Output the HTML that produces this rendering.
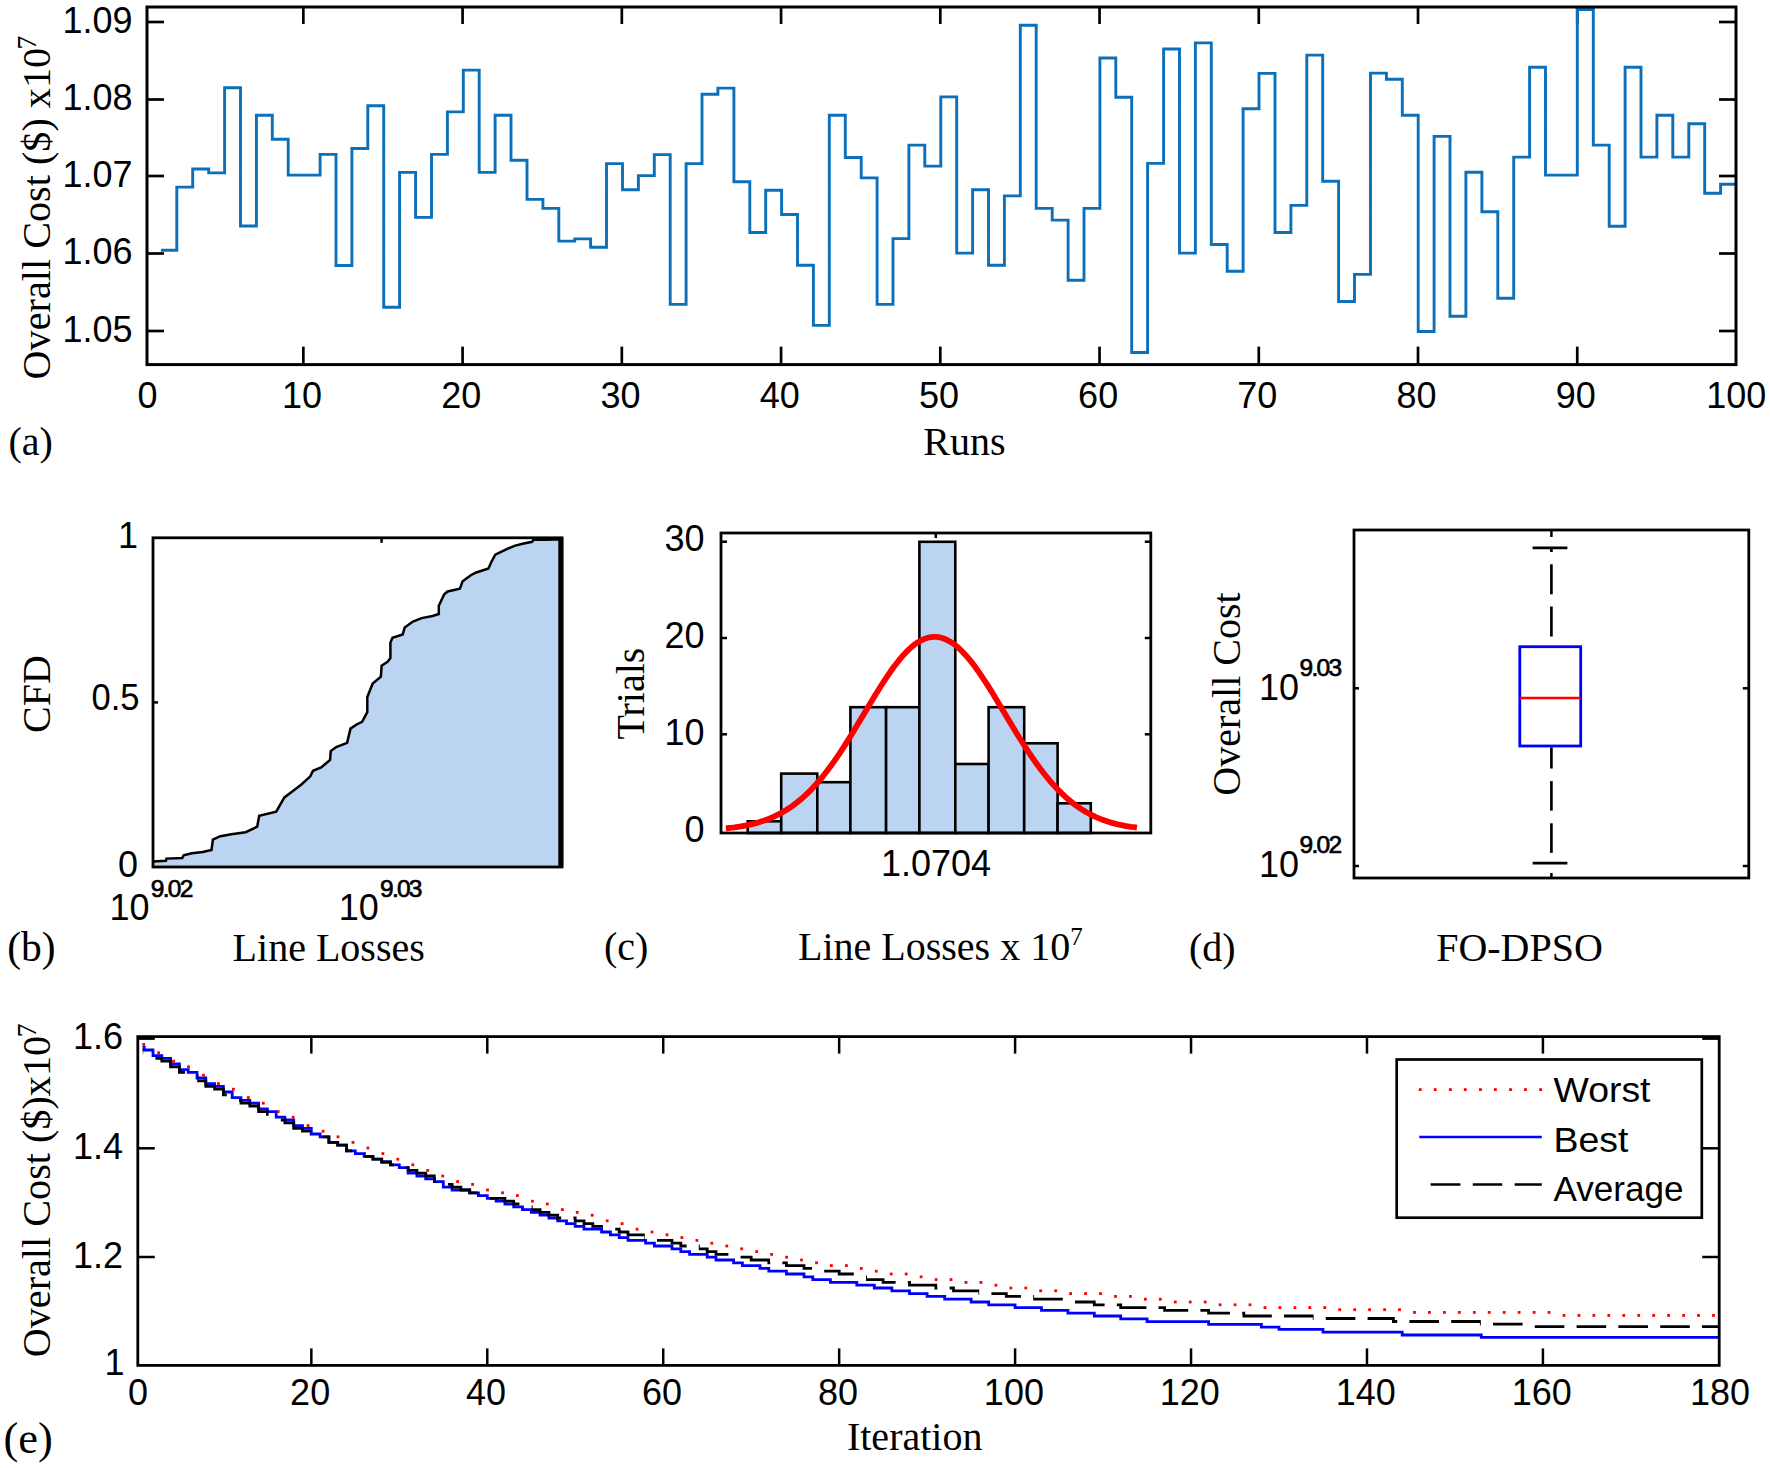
<!DOCTYPE html>
<html><head><meta charset="utf-8"><title>Figure</title>
<style>html,body{margin:0;padding:0;background:#fff;}svg{display:block;}</style></head>
<body><svg width="1770" height="1468" viewBox="0 0 1770 1468">
<rect width="1770" height="1468" fill="#fff"/>
<line x1="303.34" y1="364.60" x2="303.34" y2="346.60" stroke="#000" stroke-width="2.7" />
<line x1="303.34" y1="7.00" x2="303.34" y2="24.00" stroke="#000" stroke-width="2.7" />
<line x1="462.58" y1="364.60" x2="462.58" y2="346.60" stroke="#000" stroke-width="2.7" />
<line x1="462.58" y1="7.00" x2="462.58" y2="24.00" stroke="#000" stroke-width="2.7" />
<line x1="621.82" y1="364.60" x2="621.82" y2="346.60" stroke="#000" stroke-width="2.7" />
<line x1="621.82" y1="7.00" x2="621.82" y2="24.00" stroke="#000" stroke-width="2.7" />
<line x1="781.06" y1="364.60" x2="781.06" y2="346.60" stroke="#000" stroke-width="2.7" />
<line x1="781.06" y1="7.00" x2="781.06" y2="24.00" stroke="#000" stroke-width="2.7" />
<line x1="940.30" y1="364.60" x2="940.30" y2="346.60" stroke="#000" stroke-width="2.7" />
<line x1="940.30" y1="7.00" x2="940.30" y2="24.00" stroke="#000" stroke-width="2.7" />
<line x1="1099.54" y1="364.60" x2="1099.54" y2="346.60" stroke="#000" stroke-width="2.7" />
<line x1="1099.54" y1="7.00" x2="1099.54" y2="24.00" stroke="#000" stroke-width="2.7" />
<line x1="1258.78" y1="364.60" x2="1258.78" y2="346.60" stroke="#000" stroke-width="2.7" />
<line x1="1258.78" y1="7.00" x2="1258.78" y2="24.00" stroke="#000" stroke-width="2.7" />
<line x1="1418.02" y1="364.60" x2="1418.02" y2="346.60" stroke="#000" stroke-width="2.7" />
<line x1="1418.02" y1="7.00" x2="1418.02" y2="24.00" stroke="#000" stroke-width="2.7" />
<line x1="1577.26" y1="364.60" x2="1577.26" y2="346.60" stroke="#000" stroke-width="2.7" />
<line x1="1577.26" y1="7.00" x2="1577.26" y2="24.00" stroke="#000" stroke-width="2.7" />
<line x1="147.00" y1="22.00" x2="164.00" y2="22.00" stroke="#000" stroke-width="2.7" />
<line x1="1736.00" y1="22.00" x2="1719.00" y2="22.00" stroke="#000" stroke-width="2.7" />
<text x="132.50" y="32.50" font-size="36" font-family="Liberation Sans, sans-serif" text-anchor="end" >1.09</text>
<line x1="147.00" y1="99.50" x2="164.00" y2="99.50" stroke="#000" stroke-width="2.7" />
<line x1="1736.00" y1="99.50" x2="1719.00" y2="99.50" stroke="#000" stroke-width="2.7" />
<text x="132.50" y="110.00" font-size="36" font-family="Liberation Sans, sans-serif" text-anchor="end" >1.08</text>
<line x1="147.00" y1="176.00" x2="164.00" y2="176.00" stroke="#000" stroke-width="2.7" />
<line x1="1736.00" y1="176.00" x2="1719.00" y2="176.00" stroke="#000" stroke-width="2.7" />
<text x="132.50" y="186.50" font-size="36" font-family="Liberation Sans, sans-serif" text-anchor="end" >1.07</text>
<line x1="147.00" y1="253.50" x2="164.00" y2="253.50" stroke="#000" stroke-width="2.7" />
<line x1="1736.00" y1="253.50" x2="1719.00" y2="253.50" stroke="#000" stroke-width="2.7" />
<text x="132.50" y="264.00" font-size="36" font-family="Liberation Sans, sans-serif" text-anchor="end" >1.06</text>
<line x1="147.00" y1="331.00" x2="164.00" y2="331.00" stroke="#000" stroke-width="2.7" />
<line x1="1736.00" y1="331.00" x2="1719.00" y2="331.00" stroke="#000" stroke-width="2.7" />
<text x="132.50" y="341.50" font-size="36" font-family="Liberation Sans, sans-serif" text-anchor="end" >1.05</text>
<path d="M160.9,250.2H176.8V187.1H192.7V169.0H208.7V172.9H224.6V87.7H240.5V226.0H256.4V115.3H272.3V139.2H288.2V175.1H304.1V175.1H320.1V154.4H336.0V265.5H351.9V148.5H367.8V105.8H383.7V307.3H399.6V172.4H415.6V217.4H431.5V154.4H447.4V111.9H463.3V70.1H479.2V172.4H495.1V115.3H511.0V160.3H527.0V199.4H542.9V208.4H558.8V241.1H574.7V238.9H590.6V247.2H606.5V163.6H622.5V189.8H638.4V175.6H654.3V154.6H670.2V304.4H686.1V163.6H702.0V94.2H717.9V88.1H733.9V181.7H749.8V232.5H765.7V190.3H781.6V214.5H797.5V265.3H813.4V325.4H829.3V115.3H845.3V157.5H861.2V177.9H877.1V304.4H893.0V238.6H908.9V145.1H924.8V166.1H940.8V96.9H956.7V253.1H972.6V189.8H988.5V265.3H1004.4V195.9H1020.3V25.2H1036.2V208.4H1052.2V220.1H1068.1V280.2H1084.0V208.4H1099.9V58.0H1115.8V97.2H1131.7V352.5H1147.6V163.4H1163.6V49.0H1179.5V253.1H1195.4V42.9H1211.3V244.5H1227.2V271.2H1243.1V108.7H1259.0V73.4H1275.0V232.5H1290.9V205.4H1306.8V55.1H1322.7V181.2H1338.6V301.5H1354.5V274.4H1370.5V73.1H1386.4V79.3H1402.3V115.3H1418.2V331.5H1434.1V136.4H1450.0V316.3H1465.9V172.3H1481.9V211.8H1497.8V298.3H1513.7V157.1H1529.6V67.3H1545.5V175.1H1561.4V175.1H1577.3V9.5H1593.3V145.1H1609.2V226.2H1625.1V67.3H1641.0V157.1H1656.9V115.3H1672.8V157.1H1688.8V123.8H1704.7V193.2H1720.6V184.2H1736.5" fill="none" stroke="#0c6fba" stroke-width="2.9" stroke-linejoin="miter"/>
<rect x="147.0" y="7.0" width="1589.0" height="357.6" fill="none" stroke="#000" stroke-width="3"/>
<text x="147.50" y="407.90" font-size="36" font-family="Liberation Sans, sans-serif" text-anchor="middle" >0</text>
<text x="301.94" y="407.90" font-size="36" font-family="Liberation Sans, sans-serif" text-anchor="middle" >10</text>
<text x="461.18" y="407.90" font-size="36" font-family="Liberation Sans, sans-serif" text-anchor="middle" >20</text>
<text x="620.42" y="407.90" font-size="36" font-family="Liberation Sans, sans-serif" text-anchor="middle" >30</text>
<text x="779.66" y="407.90" font-size="36" font-family="Liberation Sans, sans-serif" text-anchor="middle" >40</text>
<text x="938.90" y="407.90" font-size="36" font-family="Liberation Sans, sans-serif" text-anchor="middle" >50</text>
<text x="1098.14" y="407.90" font-size="36" font-family="Liberation Sans, sans-serif" text-anchor="middle" >60</text>
<text x="1257.38" y="407.90" font-size="36" font-family="Liberation Sans, sans-serif" text-anchor="middle" >70</text>
<text x="1416.62" y="407.90" font-size="36" font-family="Liberation Sans, sans-serif" text-anchor="middle" >80</text>
<text x="1575.86" y="407.90" font-size="36" font-family="Liberation Sans, sans-serif" text-anchor="middle" >90</text>
<text x="1736.30" y="407.90" font-size="36" font-family="Liberation Sans, sans-serif" text-anchor="middle" >100</text>
<text transform="translate(50.00,379.40) rotate(-90)" font-size="40.2" font-family="Liberation Serif, serif" text-anchor="start" >Overall Cost ($) x10<tspan font-size="27.5" dy="-14" dx="-1.5">7</tspan></text>
<text x="964.40" y="455.30" font-size="40" font-family="Liberation Serif, serif" text-anchor="middle" >Runs</text>
<text x="8.50" y="455.30" font-size="40" font-family="Liberation Serif, serif" text-anchor="start" >(a)</text>
<path d="M152.9,861.4 L165.9,860.8 L166.5,858.6 L182.2,858.0 L183.6,855.3 L191.8,853.3 L202.7,851.9 L211.5,849.9 L212.9,839.6 L220.4,836.2 L231.3,834.2 L245.6,832.2 L257.2,826.7 L259.2,815.8 L276.2,811.7 L284.4,797.4 L292.6,791.3 L301.4,784.5 L310.3,776.3 L313.0,770.8 L321.2,767.4 L330.1,759.9 L330.7,751.1 L336.2,747.0 L347.1,742.9 L350.5,728.6 L356.6,724.5 L362.1,721.8 L367.3,712.2 L367.3,697.1 L372.7,683.5 L380.9,676.7 L381.6,665.8 L387.7,661.7 L390.4,658.0 L390.4,642.6 L392.5,637.8 L402.7,634.4 L404.7,627.6 L412.9,621.5 L421.7,618.1 L432.6,616.0 L438.8,614.0 L438.8,605.8 L444.2,594.3 L447.6,591.5 L459.9,588.8 L462.6,581.3 L470.8,575.2 L476.2,572.5 L488.5,568.4 L491.2,562.2 L495.3,554.7 L506.2,549.3 L514.4,545.9 L522.6,543.8 L532.1,541.8 L533.5,539.8 L545.7,539.8 L560.5,539.2 L560.5,867.0 L153.0,867.0 Z" fill="#bad4f1" stroke="none"/>
<path d="M152.9,861.4 L165.9,860.8 L166.5,858.6 L182.2,858.0 L183.6,855.3 L191.8,853.3 L202.7,851.9 L211.5,849.9 L212.9,839.6 L220.4,836.2 L231.3,834.2 L245.6,832.2 L257.2,826.7 L259.2,815.8 L276.2,811.7 L284.4,797.4 L292.6,791.3 L301.4,784.5 L310.3,776.3 L313.0,770.8 L321.2,767.4 L330.1,759.9 L330.7,751.1 L336.2,747.0 L347.1,742.9 L350.5,728.6 L356.6,724.5 L362.1,721.8 L367.3,712.2 L367.3,697.1 L372.7,683.5 L380.9,676.7 L381.6,665.8 L387.7,661.7 L390.4,658.0 L390.4,642.6 L392.5,637.8 L402.7,634.4 L404.7,627.6 L412.9,621.5 L421.7,618.1 L432.6,616.0 L438.8,614.0 L438.8,605.8 L444.2,594.3 L447.6,591.5 L459.9,588.8 L462.6,581.3 L470.8,575.2 L476.2,572.5 L488.5,568.4 L491.2,562.2 L495.3,554.7 L506.2,549.3 L514.4,545.9 L522.6,543.8 L532.1,541.8 L533.5,539.8 L545.7,539.8 L560.5,539.2 L560.5,867.0" fill="none" stroke="#000" stroke-width="2.5" stroke-linejoin="miter"/>
<rect x="153.0" y="537.8" width="409.0" height="329.20000000000005" fill="none" stroke="#000" stroke-width="2.8"/>
<line x1="560.80" y1="537.80" x2="560.80" y2="867.00" stroke="#000" stroke-width="5" />
<line x1="381.60" y1="537.80" x2="381.60" y2="542.80" stroke="#000" stroke-width="2.5" />
<line x1="153.00" y1="702.40" x2="158.00" y2="702.40" stroke="#000" stroke-width="2.5" />
<text x="138.00" y="548.00" font-size="36" font-family="Liberation Sans, sans-serif" text-anchor="end" >1</text>
<text x="139.50" y="709.60" font-size="36" font-family="Liberation Sans, sans-serif" text-anchor="end" textLength="48" lengthAdjust="spacingAndGlyphs">0.5</text>
<text x="138.00" y="876.60" font-size="36" font-family="Liberation Sans, sans-serif" text-anchor="end" >0</text>
<text x="149.60" y="920.00" font-size="36" font-family="Liberation Sans, sans-serif" text-anchor="end" >10</text>
<text x="150.80" y="897.00" font-size="24.5" font-family="Liberation Sans, sans-serif" textLength="42.5" lengthAdjust="spacing" stroke="#000" stroke-width="0.7">9.02</text>
<text x="378.80" y="920.00" font-size="36" font-family="Liberation Sans, sans-serif" text-anchor="end" >10</text>
<text x="380.00" y="897.00" font-size="24.5" font-family="Liberation Sans, sans-serif" textLength="42.5" lengthAdjust="spacing" stroke="#000" stroke-width="0.7">9.03</text>
<text transform="translate(49.70,694.00) rotate(-90)" font-size="40" font-family="Liberation Serif, serif" text-anchor="middle" >CFD</text>
<text x="328.70" y="960.80" font-size="40" font-family="Liberation Serif, serif" text-anchor="middle" >Line Losses</text>
<text x="7.30" y="960.90" font-size="41.5" font-family="Liberation Serif, serif" text-anchor="start" >(b)</text>
<rect x="747.7" y="821.3" width="33.5" height="11.7" fill="#bad4f1" stroke="#000" stroke-width="2.6"/>
<rect x="781.2" y="773.6" width="36.1" height="59.4" fill="#bad4f1" stroke="#000" stroke-width="2.6"/>
<rect x="817.3" y="782.2" width="33.1" height="50.8" fill="#bad4f1" stroke="#000" stroke-width="2.6"/>
<rect x="850.4" y="707.2" width="35.7" height="125.8" fill="#bad4f1" stroke="#000" stroke-width="2.6"/>
<rect x="886.1" y="707.2" width="33.3" height="125.8" fill="#bad4f1" stroke="#000" stroke-width="2.6"/>
<rect x="919.4" y="541.8" width="35.9" height="291.2" fill="#bad4f1" stroke="#000" stroke-width="2.6"/>
<rect x="955.3" y="764.0" width="33.3" height="69.0" fill="#bad4f1" stroke="#000" stroke-width="2.6"/>
<rect x="988.6" y="707.2" width="35.6" height="125.8" fill="#bad4f1" stroke="#000" stroke-width="2.6"/>
<rect x="1024.2" y="743.3" width="33.4" height="89.7" fill="#bad4f1" stroke="#000" stroke-width="2.6"/>
<rect x="1057.6" y="803.3" width="33.2" height="29.7" fill="#bad4f1" stroke="#000" stroke-width="2.6"/>
<path d="M725.9,828.3 L728.9,828.0 L731.9,827.7 L734.9,827.3 L737.9,826.8 L740.9,826.4 L743.9,825.8 L746.9,825.3 L749.9,824.6 L752.9,823.9 L755.9,823.1 L758.9,822.3 L761.9,821.3 L764.9,820.3 L767.9,819.2 L770.9,818.0 L773.9,816.7 L776.9,815.2 L779.9,813.7 L782.9,812.0 L785.9,810.2 L788.9,808.3 L791.9,806.3 L794.9,804.1 L797.9,801.7 L800.9,799.2 L803.9,796.6 L806.9,793.8 L809.9,790.9 L812.9,787.7 L815.9,784.5 L818.9,781.0 L821.9,777.5 L824.9,773.7 L827.9,769.8 L830.9,765.8 L833.9,761.6 L836.9,757.3 L839.9,752.9 L842.9,748.3 L845.9,743.6 L848.9,738.9 L851.9,734.0 L854.9,729.1 L857.9,724.1 L860.9,719.1 L863.9,714.1 L866.9,709.1 L869.9,704.0 L872.9,699.0 L875.9,694.1 L878.9,689.3 L881.9,684.5 L884.9,679.9 L887.9,675.4 L890.9,671.0 L893.9,666.8 L896.9,662.9 L899.9,659.1 L902.9,655.6 L905.9,652.4 L908.9,649.4 L911.9,646.7 L914.9,644.3 L917.9,642.2 L920.9,640.5 L923.9,639.1 L926.9,638.0 L929.9,637.3 L932.9,636.9 L935.9,636.9 L938.9,637.2 L941.9,637.9 L944.9,639.0 L947.9,640.4 L950.9,642.1 L953.9,644.1 L956.9,646.5 L959.9,649.2 L962.9,652.2 L965.9,655.4 L968.9,658.9 L971.9,662.6 L974.9,666.6 L977.9,670.7 L980.9,675.1 L983.9,679.6 L986.9,684.2 L989.9,688.9 L992.9,693.8 L995.9,698.7 L998.9,703.7 L1001.9,708.7 L1004.9,713.8 L1007.9,718.8 L1010.9,723.8 L1013.9,728.8 L1016.9,733.7 L1019.9,738.5 L1022.9,743.3 L1025.9,748.0 L1028.9,752.6 L1031.9,757.0 L1034.9,761.3 L1037.9,765.5 L1040.9,769.6 L1043.9,773.5 L1046.9,777.2 L1049.9,780.8 L1052.9,784.3 L1055.9,787.5 L1058.9,790.7 L1061.9,793.6 L1064.9,796.4 L1067.9,799.1 L1070.9,801.6 L1073.9,803.9 L1076.9,806.1 L1079.9,808.2 L1082.9,810.1 L1085.9,811.9 L1088.9,813.6 L1091.9,815.1 L1094.9,816.6 L1097.9,817.9 L1100.9,819.1 L1103.9,820.2 L1106.9,821.3 L1109.9,822.2 L1112.9,823.1 L1115.9,823.9 L1118.9,824.6 L1121.9,825.2 L1124.9,825.8 L1127.9,826.3 L1130.9,826.8 L1133.9,827.2 L1136.9,827.6" fill="none" stroke="#fe0000" stroke-width="5.8" stroke-linejoin="round"/>
<rect x="721.0" y="533.0" width="429.79999999999995" height="300.0" fill="none" stroke="#000" stroke-width="2.8"/>
<line x1="721.00" y1="734.30" x2="727.00" y2="734.30" stroke="#000" stroke-width="2.5" />
<line x1="1150.80" y1="734.30" x2="1144.80" y2="734.30" stroke="#000" stroke-width="2.5" />
<line x1="721.00" y1="638.00" x2="727.00" y2="638.00" stroke="#000" stroke-width="2.5" />
<line x1="1150.80" y1="638.00" x2="1144.80" y2="638.00" stroke="#000" stroke-width="2.5" />
<line x1="721.00" y1="541.70" x2="727.00" y2="541.70" stroke="#000" stroke-width="2.5" />
<line x1="1150.80" y1="541.70" x2="1144.80" y2="541.70" stroke="#000" stroke-width="2.5" />
<line x1="935.80" y1="533.00" x2="935.80" y2="538.00" stroke="#000" stroke-width="2.5" />
<text x="704.50" y="551.40" font-size="36" font-family="Liberation Sans, sans-serif" text-anchor="end" >30</text>
<text x="704.50" y="648.10" font-size="36" font-family="Liberation Sans, sans-serif" text-anchor="end" >20</text>
<text x="704.50" y="744.50" font-size="36" font-family="Liberation Sans, sans-serif" text-anchor="end" >10</text>
<text x="704.50" y="842.20" font-size="36" font-family="Liberation Sans, sans-serif" text-anchor="end" >0</text>
<text x="936.00" y="876.40" font-size="36" font-family="Liberation Sans, sans-serif" text-anchor="middle" >1.0704</text>
<text transform="translate(644.30,693.60) rotate(-90)" font-size="40" font-family="Liberation Serif, serif" text-anchor="middle" >Trials</text>
<text x="604.00" y="959.80" font-size="40" font-family="Liberation Serif, serif" text-anchor="start" >(c)</text>
<text x="798.00" y="959.80" font-size="40" font-family="Liberation Serif, serif" text-anchor="start" >Line Losses x 10<tspan font-size="25" dy="-15">7</tspan></text>
<rect x="1354.0" y="530.0" width="394.79999999999995" height="348.0" fill="none" stroke="#000" stroke-width="2.8"/>
<line x1="1551.40" y1="530.00" x2="1551.40" y2="537.00" stroke="#000" stroke-width="2.5" />
<line x1="1551.40" y1="878.00" x2="1551.40" y2="873.00" stroke="#000" stroke-width="2.5" />
<line x1="1354.00" y1="688.30" x2="1359.00" y2="688.30" stroke="#000" stroke-width="2.5" />
<line x1="1748.80" y1="688.30" x2="1742.80" y2="688.30" stroke="#000" stroke-width="2.5" />
<line x1="1354.00" y1="866.00" x2="1359.00" y2="866.00" stroke="#000" stroke-width="2.5" />
<line x1="1748.80" y1="866.00" x2="1742.80" y2="866.00" stroke="#000" stroke-width="2.5" />
<line x1="1551.40" y1="547.90" x2="1551.40" y2="552.00" stroke="#000" stroke-width="2.7" />
<line x1="1551.40" y1="564.30" x2="1551.40" y2="594.30" stroke="#000" stroke-width="2.7" />
<line x1="1551.40" y1="606.50" x2="1551.40" y2="636.50" stroke="#000" stroke-width="2.7" />
<line x1="1551.40" y1="747.30" x2="1551.40" y2="768.50" stroke="#000" stroke-width="2.7" />
<line x1="1551.40" y1="781.10" x2="1551.40" y2="810.60" stroke="#000" stroke-width="2.7" />
<line x1="1551.40" y1="823.30" x2="1551.40" y2="852.90" stroke="#000" stroke-width="2.7" />
<line x1="1532.60" y1="547.90" x2="1567.40" y2="547.90" stroke="#000" stroke-width="2.7" />
<line x1="1532.60" y1="863.20" x2="1567.40" y2="863.20" stroke="#000" stroke-width="2.7" />
<rect x="1519.8" y="646.7" width="60.9" height="99.3" fill="none" stroke="#0000fe" stroke-width="2.8"/>
<line x1="1519.80" y1="698.00" x2="1580.70" y2="698.00" stroke="#fe0000" stroke-width="2.7" />
<text x="1299.00" y="699.70" font-size="36" font-family="Liberation Sans, sans-serif" text-anchor="end" >10</text>
<text x="1299.60" y="675.70" font-size="24.5" font-family="Liberation Sans, sans-serif" textLength="42.5" lengthAdjust="spacing" stroke="#000" stroke-width="0.7">9.03</text>
<text x="1299.00" y="876.90" font-size="36" font-family="Liberation Sans, sans-serif" text-anchor="end" >10</text>
<text x="1299.60" y="852.90" font-size="24.5" font-family="Liberation Sans, sans-serif" textLength="42.5" lengthAdjust="spacing" stroke="#000" stroke-width="0.7">9.02</text>
<text transform="translate(1239.60,694.00) rotate(-90)" font-size="40" font-family="Liberation Serif, serif" text-anchor="middle" >Overall Cost</text>
<text x="1189.00" y="960.50" font-size="40" font-family="Liberation Serif, serif" text-anchor="start" >(d)</text>
<text x="1519.50" y="960.50" font-size="40" font-family="Liberation Serif, serif" text-anchor="middle" >FO-DPSO</text>
<path d="M142.6,1047.2H144.2V1050.0H153.0V1055.6H161.8V1058.4H170.6V1064.0H179.4V1069.6H188.2V1072.4H197.0V1078.0H205.8V1083.6H214.6V1086.4H223.4V1092.0H232.2V1097.6H241.0V1100.4H249.8V1103.2H258.6V1108.8H267.4V1111.6H276.2V1117.2H284.9V1120.0H293.7V1125.6H302.5V1128.4H311.3V1134.0H320.1V1136.8H328.9V1142.4H337.7V1145.2H346.5V1150.8H355.3V1153.6H364.1V1156.4H372.9V1159.2H381.7V1162.0H390.5V1164.8H399.3V1167.6H408.1V1173.2H416.9V1176.0H425.7V1178.8H434.5V1181.6H443.3V1187.2H452.1V1190.0H460.9V1190.0H469.7V1192.8H478.5V1195.6H487.3V1198.4H496.1V1201.2H504.9V1204.0H513.7V1206.8H522.5V1209.6H531.3V1212.4H540.1V1215.2H548.9V1218.0H557.7V1220.8H566.5V1223.6H575.2V1226.4H584.0V1229.2H592.8V1229.2H601.6V1232.0H610.4V1234.8H619.2V1237.6H628.0V1240.4H636.8V1240.4H645.6V1243.2H654.4V1246.0H663.2V1246.0H672.0V1248.8H680.8V1251.6H689.6V1254.4H698.4V1254.4H707.2V1257.2H716.0V1260.0H724.8V1260.0H733.6V1262.8H742.4V1265.6H751.2V1265.6H760.0V1268.4H768.8V1271.2H777.6V1271.2H786.4V1274.0H795.2V1274.0H804.0V1276.8H812.8V1279.6H821.6V1279.6H830.4V1282.4H839.2V1282.4H848.0V1282.4H856.8V1285.2H865.6V1285.2H874.3V1288.0H883.1V1288.0H891.9V1290.8H900.7V1290.8H909.5V1293.6H918.3V1293.6H927.1V1296.4H935.9V1296.4H944.7V1299.2H953.5V1299.2H962.3V1299.2H971.1V1302.0H979.9V1302.0H988.7V1304.8H997.5V1304.8H1006.3V1304.8H1015.1V1307.6H1023.9V1307.6H1032.7V1307.6H1041.5V1310.4H1050.3V1310.4H1059.1V1310.4H1067.9V1313.2H1076.7V1313.2H1085.5V1313.2H1094.3V1316.0H1103.1V1316.0H1111.9V1316.0H1120.7V1318.8H1129.5V1318.8H1138.3V1318.8H1147.1V1321.6H1155.9V1321.6H1164.6V1321.6H1173.4V1321.6H1182.2V1321.6H1191.0V1321.6H1199.8V1321.6H1208.6V1324.4H1217.4V1324.4H1226.2V1324.4H1235.0V1324.4H1243.8V1324.4H1252.6V1324.4H1261.4V1327.2H1270.2V1327.2H1279.0V1329.4H1287.8V1329.4H1296.6V1329.4H1305.4V1329.4H1314.2V1329.4H1323.0V1332.1H1331.8V1332.1H1340.6V1332.1H1349.4V1332.1H1358.2V1332.1H1367.0V1332.1H1375.8V1332.1H1384.6V1332.1H1393.4V1332.1H1402.2V1335.0H1411.0V1335.0H1419.8V1335.0H1428.6V1335.0H1437.4V1335.0H1446.2V1335.0H1455.0V1335.0H1463.7V1335.0H1472.5V1335.0H1481.3V1337.4H1490.1V1337.4H1498.9V1337.4H1507.7V1337.4H1516.5V1337.4H1525.3V1337.4H1534.1V1337.4H1542.9V1337.4H1551.7V1337.4H1560.5V1337.4H1569.3V1337.4H1578.1V1337.4H1586.9V1337.4H1595.7V1337.4H1604.5V1337.4H1613.3V1337.4H1622.1V1337.4H1630.9V1337.4H1639.7V1337.4H1648.5V1337.4H1657.3V1337.4H1666.1V1337.4H1674.9V1337.4H1683.7V1337.4H1692.5V1337.4H1701.3V1337.4H1710.1V1337.4H1718.9V1337.4H1719.2" fill="none" stroke="#0000fe" stroke-width="2.8"/>
<clipPath id="dsh"><rect x="113.6" y="1030" width="29.6" height="340"/><rect x="155.4" y="1030" width="29.6" height="340"/><rect x="197.2" y="1030" width="29.6" height="340"/><rect x="239.0" y="1030" width="29.6" height="340"/><rect x="280.8" y="1030" width="29.6" height="340"/><rect x="322.6" y="1030" width="29.6" height="340"/><rect x="364.4" y="1030" width="29.6" height="340"/><rect x="406.2" y="1030" width="29.6" height="340"/><rect x="448.0" y="1030" width="29.6" height="340"/><rect x="489.8" y="1030" width="29.6" height="340"/><rect x="531.6" y="1030" width="29.6" height="340"/><rect x="573.4" y="1030" width="29.6" height="340"/><rect x="615.2" y="1030" width="29.6" height="340"/><rect x="657.0" y="1030" width="29.6" height="340"/><rect x="698.8" y="1030" width="29.6" height="340"/><rect x="740.6" y="1030" width="29.6" height="340"/><rect x="782.4" y="1030" width="29.6" height="340"/><rect x="824.2" y="1030" width="29.6" height="340"/><rect x="866.0" y="1030" width="29.6" height="340"/><rect x="907.8" y="1030" width="29.6" height="340"/><rect x="949.6" y="1030" width="29.6" height="340"/><rect x="991.4" y="1030" width="29.6" height="340"/><rect x="1033.2" y="1030" width="29.6" height="340"/><rect x="1075.0" y="1030" width="29.6" height="340"/><rect x="1116.8" y="1030" width="29.6" height="340"/><rect x="1158.6" y="1030" width="29.6" height="340"/><rect x="1200.4" y="1030" width="29.6" height="340"/><rect x="1242.2" y="1030" width="29.6" height="340"/><rect x="1284.0" y="1030" width="29.6" height="340"/><rect x="1325.8" y="1030" width="29.6" height="340"/><rect x="1367.6" y="1030" width="29.6" height="340"/><rect x="1409.4" y="1030" width="29.6" height="340"/><rect x="1451.2" y="1030" width="29.6" height="340"/><rect x="1493.0" y="1030" width="29.6" height="340"/><rect x="1534.8" y="1030" width="29.6" height="340"/><rect x="1576.6" y="1030" width="29.6" height="340"/><rect x="1618.4" y="1030" width="29.6" height="340"/><rect x="1660.2" y="1030" width="29.6" height="340"/><rect x="1702.0" y="1030" width="29.6" height="340"/></clipPath>
<path d="M142.6,1050.0H144.2V1052.8H153.0V1058.4H161.8V1061.2H170.6V1066.8H179.4V1072.4H188.2V1075.2H197.0V1080.8H205.8V1086.4H214.6V1089.2H223.4V1094.8H232.2V1100.4H241.0V1103.2H249.8V1106.0H258.6V1111.6H267.4V1114.4H276.2V1120.0H284.9V1122.8H293.7V1128.4H302.5V1131.2H311.3V1134.0H320.1V1136.8H328.9V1142.4H337.7V1145.2H346.5V1150.8H355.3V1153.6H364.1V1156.4H372.9V1159.2H381.7V1162.0H390.5V1164.8H399.3V1167.6H408.1V1170.4H416.9V1173.2H425.7V1176.0H434.5V1181.6H443.3V1184.4H452.1V1187.2H460.9V1190.0H469.7V1192.8H478.5V1195.6H487.3V1198.4H496.1V1198.4H504.9V1201.2H513.7V1204.0H522.5V1206.8H531.3V1209.6H540.1V1212.4H548.9V1215.2H557.7V1218.0H566.5V1218.0H575.2V1220.8H584.0V1223.6H592.8V1226.4H601.6V1226.4H610.4V1229.2H619.2V1232.0H628.0V1234.8H636.8V1234.8H645.6V1237.6H654.4V1240.4H663.2V1240.4H672.0V1243.2H680.8V1246.0H689.6V1246.0H698.4V1248.8H707.2V1251.6H716.0V1254.4H724.8V1254.4H733.6V1257.2H742.4V1257.2H751.2V1260.0H760.0V1260.0H768.8V1262.8H777.6V1262.8H786.4V1265.6H795.2V1265.6H804.0V1268.4H812.8V1268.4H821.6V1271.2H830.4V1271.2H839.2V1274.0H848.0V1274.0H856.8V1276.8H865.6V1279.6H874.3V1279.6H883.1V1282.4H891.9V1282.4H900.7V1282.4H909.5V1285.2H918.3V1285.2H927.1V1285.2H935.9V1288.0H944.7V1288.0H953.5V1290.8H962.3V1290.8H971.1V1290.8H979.9V1293.6H988.7V1293.6H997.5V1293.6H1006.3V1296.4H1015.1V1296.4H1023.9V1296.4H1032.7V1299.2H1041.5V1299.2H1050.3V1299.2H1059.1V1299.2H1067.9V1302.0H1076.7V1302.0H1085.5V1302.0H1094.3V1304.8H1103.1V1304.8H1111.9V1304.8H1120.7V1307.6H1129.5V1307.6H1138.3V1307.6H1147.1V1307.6H1155.9V1307.6H1164.6V1310.4H1173.4V1310.4H1182.2V1310.4H1191.0V1310.4H1199.8V1310.4H1208.6V1313.2H1217.4V1313.2H1226.2V1313.2H1235.0V1313.2H1243.8V1316.0H1252.6V1316.0H1261.4V1316.0H1270.2V1316.0H1279.0V1316.0H1287.8V1316.0H1296.6V1316.0H1305.4V1316.0H1314.2V1318.5H1323.0V1318.5H1331.8V1318.5H1340.6V1318.5H1349.4V1318.5H1358.2V1318.5H1367.0V1318.5H1375.8V1318.5H1384.6V1318.5H1393.4V1321.5H1402.2V1321.5H1411.0V1321.5H1419.8V1321.5H1428.6V1321.5H1437.4V1321.5H1446.2V1321.5H1455.0V1321.5H1463.7V1321.5H1472.5V1321.5H1481.3V1324.2H1490.1V1324.2H1498.9V1324.2H1507.7V1324.2H1516.5V1324.2H1525.3V1326.7H1534.1V1326.7H1542.9V1326.7H1551.7V1326.7H1560.5V1326.7H1569.3V1326.7H1578.1V1326.7H1586.9V1326.7H1595.7V1326.7H1604.5V1326.7H1613.3V1326.7H1622.1V1326.7H1630.9V1326.7H1639.7V1326.7H1648.5V1326.7H1657.3V1326.7H1666.1V1326.7H1674.9V1326.7H1683.7V1326.7H1692.5V1326.7H1701.3V1326.7H1710.1V1326.7H1718.9V1326.7H1719.2" fill="none" stroke="#000" stroke-width="2.8" clip-path="url(#dsh)"/>
<rect x="142.3" y="1043.0" width="2.8" height="2.8" fill="#fe0000"/>
<rect x="157.2" y="1051.4" width="2.8" height="2.8" fill="#fe0000"/>
<rect x="172.2" y="1059.8" width="2.8" height="2.8" fill="#fe0000"/>
<rect x="187.1" y="1065.4" width="2.8" height="2.8" fill="#fe0000"/>
<rect x="202.1" y="1073.8" width="2.8" height="2.8" fill="#fe0000"/>
<rect x="217.0" y="1082.2" width="2.8" height="2.8" fill="#fe0000"/>
<rect x="232.0" y="1087.8" width="2.8" height="2.8" fill="#fe0000"/>
<rect x="246.9" y="1096.2" width="2.8" height="2.8" fill="#fe0000"/>
<rect x="261.9" y="1101.8" width="2.8" height="2.8" fill="#fe0000"/>
<rect x="276.8" y="1110.2" width="2.8" height="2.8" fill="#fe0000"/>
<rect x="291.8" y="1115.8" width="2.8" height="2.8" fill="#fe0000"/>
<rect x="306.7" y="1124.2" width="2.8" height="2.8" fill="#fe0000"/>
<rect x="321.7" y="1129.8" width="2.8" height="2.8" fill="#fe0000"/>
<rect x="336.6" y="1135.4" width="2.8" height="2.8" fill="#fe0000"/>
<rect x="351.6" y="1141.0" width="2.8" height="2.8" fill="#fe0000"/>
<rect x="366.5" y="1146.6" width="2.8" height="2.8" fill="#fe0000"/>
<rect x="381.5" y="1152.2" width="2.8" height="2.8" fill="#fe0000"/>
<rect x="396.4" y="1157.8" width="2.8" height="2.8" fill="#fe0000"/>
<rect x="411.4" y="1163.4" width="2.8" height="2.8" fill="#fe0000"/>
<rect x="426.3" y="1169.0" width="2.8" height="2.8" fill="#fe0000"/>
<rect x="441.3" y="1174.6" width="2.8" height="2.8" fill="#fe0000"/>
<rect x="456.2" y="1180.2" width="2.8" height="2.8" fill="#fe0000"/>
<rect x="471.2" y="1183.0" width="2.8" height="2.8" fill="#fe0000"/>
<rect x="486.1" y="1188.6" width="2.8" height="2.8" fill="#fe0000"/>
<rect x="501.1" y="1191.4" width="2.8" height="2.8" fill="#fe0000"/>
<rect x="516.0" y="1194.2" width="2.8" height="2.8" fill="#fe0000"/>
<rect x="531.0" y="1199.8" width="2.8" height="2.8" fill="#fe0000"/>
<rect x="545.9" y="1202.6" width="2.8" height="2.8" fill="#fe0000"/>
<rect x="560.9" y="1208.2" width="2.8" height="2.8" fill="#fe0000"/>
<rect x="575.8" y="1211.0" width="2.8" height="2.8" fill="#fe0000"/>
<rect x="590.8" y="1213.8" width="2.8" height="2.8" fill="#fe0000"/>
<rect x="605.8" y="1219.4" width="2.8" height="2.8" fill="#fe0000"/>
<rect x="620.7" y="1222.2" width="2.8" height="2.8" fill="#fe0000"/>
<rect x="635.7" y="1227.8" width="2.8" height="2.8" fill="#fe0000"/>
<rect x="650.6" y="1230.6" width="2.8" height="2.8" fill="#fe0000"/>
<rect x="665.6" y="1233.4" width="2.8" height="2.8" fill="#fe0000"/>
<rect x="680.5" y="1236.2" width="2.8" height="2.8" fill="#fe0000"/>
<rect x="695.5" y="1239.0" width="2.8" height="2.8" fill="#fe0000"/>
<rect x="710.4" y="1241.8" width="2.8" height="2.8" fill="#fe0000"/>
<rect x="725.4" y="1244.6" width="2.8" height="2.8" fill="#fe0000"/>
<rect x="740.3" y="1247.4" width="2.8" height="2.8" fill="#fe0000"/>
<rect x="755.3" y="1250.2" width="2.8" height="2.8" fill="#fe0000"/>
<rect x="770.2" y="1253.0" width="2.8" height="2.8" fill="#fe0000"/>
<rect x="785.2" y="1255.8" width="2.8" height="2.8" fill="#fe0000"/>
<rect x="800.1" y="1258.6" width="2.8" height="2.8" fill="#fe0000"/>
<rect x="815.1" y="1261.4" width="2.8" height="2.8" fill="#fe0000"/>
<rect x="830.0" y="1264.2" width="2.8" height="2.8" fill="#fe0000"/>
<rect x="845.0" y="1264.2" width="2.8" height="2.8" fill="#fe0000"/>
<rect x="859.9" y="1267.0" width="2.8" height="2.8" fill="#fe0000"/>
<rect x="874.9" y="1269.8" width="2.8" height="2.8" fill="#fe0000"/>
<rect x="889.8" y="1272.6" width="2.8" height="2.8" fill="#fe0000"/>
<rect x="904.8" y="1272.6" width="2.8" height="2.8" fill="#fe0000"/>
<rect x="919.7" y="1275.4" width="2.8" height="2.8" fill="#fe0000"/>
<rect x="934.7" y="1278.2" width="2.8" height="2.8" fill="#fe0000"/>
<rect x="949.6" y="1278.2" width="2.8" height="2.8" fill="#fe0000"/>
<rect x="964.6" y="1281.0" width="2.8" height="2.8" fill="#fe0000"/>
<rect x="979.5" y="1281.0" width="2.8" height="2.8" fill="#fe0000"/>
<rect x="994.5" y="1283.8" width="2.8" height="2.8" fill="#fe0000"/>
<rect x="1009.4" y="1286.6" width="2.8" height="2.8" fill="#fe0000"/>
<rect x="1024.4" y="1286.6" width="2.8" height="2.8" fill="#fe0000"/>
<rect x="1039.3" y="1289.4" width="2.8" height="2.8" fill="#fe0000"/>
<rect x="1054.3" y="1289.4" width="2.8" height="2.8" fill="#fe0000"/>
<rect x="1069.2" y="1292.2" width="2.8" height="2.8" fill="#fe0000"/>
<rect x="1084.2" y="1292.2" width="2.8" height="2.8" fill="#fe0000"/>
<rect x="1099.1" y="1292.2" width="2.8" height="2.8" fill="#fe0000"/>
<rect x="1114.1" y="1295.0" width="2.8" height="2.8" fill="#fe0000"/>
<rect x="1129.0" y="1295.0" width="2.8" height="2.8" fill="#fe0000"/>
<rect x="1144.0" y="1297.8" width="2.8" height="2.8" fill="#fe0000"/>
<rect x="1158.9" y="1297.8" width="2.8" height="2.8" fill="#fe0000"/>
<rect x="1173.9" y="1300.6" width="2.8" height="2.8" fill="#fe0000"/>
<rect x="1188.8" y="1300.6" width="2.8" height="2.8" fill="#fe0000"/>
<rect x="1203.8" y="1300.6" width="2.8" height="2.8" fill="#fe0000"/>
<rect x="1218.7" y="1303.4" width="2.8" height="2.8" fill="#fe0000"/>
<rect x="1233.7" y="1303.4" width="2.8" height="2.8" fill="#fe0000"/>
<rect x="1248.6" y="1303.4" width="2.8" height="2.8" fill="#fe0000"/>
<rect x="1263.6" y="1306.2" width="2.8" height="2.8" fill="#fe0000"/>
<rect x="1278.5" y="1306.2" width="2.8" height="2.8" fill="#fe0000"/>
<rect x="1293.5" y="1306.2" width="2.8" height="2.8" fill="#fe0000"/>
<rect x="1308.4" y="1306.2" width="2.8" height="2.8" fill="#fe0000"/>
<rect x="1323.4" y="1306.2" width="2.8" height="2.8" fill="#fe0000"/>
<rect x="1338.3" y="1308.3" width="2.8" height="2.8" fill="#fe0000"/>
<rect x="1353.3" y="1308.3" width="2.8" height="2.8" fill="#fe0000"/>
<rect x="1368.2" y="1308.3" width="2.8" height="2.8" fill="#fe0000"/>
<rect x="1383.2" y="1308.3" width="2.8" height="2.8" fill="#fe0000"/>
<rect x="1398.1" y="1308.3" width="2.8" height="2.8" fill="#fe0000"/>
<rect x="1413.1" y="1311.0" width="2.8" height="2.8" fill="#fe0000"/>
<rect x="1428.0" y="1311.0" width="2.8" height="2.8" fill="#fe0000"/>
<rect x="1443.0" y="1311.0" width="2.8" height="2.8" fill="#fe0000"/>
<rect x="1457.9" y="1311.0" width="2.8" height="2.8" fill="#fe0000"/>
<rect x="1472.9" y="1311.0" width="2.8" height="2.8" fill="#fe0000"/>
<rect x="1487.8" y="1311.0" width="2.8" height="2.8" fill="#fe0000"/>
<rect x="1502.8" y="1311.0" width="2.8" height="2.8" fill="#fe0000"/>
<rect x="1517.7" y="1311.0" width="2.8" height="2.8" fill="#fe0000"/>
<rect x="1532.7" y="1311.0" width="2.8" height="2.8" fill="#fe0000"/>
<rect x="1547.6" y="1311.0" width="2.8" height="2.8" fill="#fe0000"/>
<rect x="1562.6" y="1314.0" width="2.8" height="2.8" fill="#fe0000"/>
<rect x="1577.5" y="1314.0" width="2.8" height="2.8" fill="#fe0000"/>
<rect x="1592.5" y="1314.0" width="2.8" height="2.8" fill="#fe0000"/>
<rect x="1607.4" y="1314.0" width="2.8" height="2.8" fill="#fe0000"/>
<rect x="1622.4" y="1314.0" width="2.8" height="2.8" fill="#fe0000"/>
<rect x="1637.3" y="1314.0" width="2.8" height="2.8" fill="#fe0000"/>
<rect x="1652.3" y="1314.0" width="2.8" height="2.8" fill="#fe0000"/>
<rect x="1667.2" y="1314.0" width="2.8" height="2.8" fill="#fe0000"/>
<rect x="1682.2" y="1314.0" width="2.8" height="2.8" fill="#fe0000"/>
<rect x="1697.1" y="1314.0" width="2.8" height="2.8" fill="#fe0000"/>
<rect x="1712.1" y="1314.0" width="2.8" height="2.8" fill="#fe0000"/>
<rect x="137.8" y="1036.6" width="1581.4" height="328.8000000000002" fill="none" stroke="#000" stroke-width="2.8"/>
<line x1="311.34" y1="1365.40" x2="311.34" y2="1348.40" stroke="#000" stroke-width="2.5" />
<line x1="311.34" y1="1036.60" x2="311.34" y2="1053.60" stroke="#000" stroke-width="2.5" />
<line x1="487.28" y1="1365.40" x2="487.28" y2="1348.40" stroke="#000" stroke-width="2.5" />
<line x1="487.28" y1="1036.60" x2="487.28" y2="1053.60" stroke="#000" stroke-width="2.5" />
<line x1="663.22" y1="1365.40" x2="663.22" y2="1348.40" stroke="#000" stroke-width="2.5" />
<line x1="663.22" y1="1036.60" x2="663.22" y2="1053.60" stroke="#000" stroke-width="2.5" />
<line x1="839.16" y1="1365.40" x2="839.16" y2="1348.40" stroke="#000" stroke-width="2.5" />
<line x1="839.16" y1="1036.60" x2="839.16" y2="1053.60" stroke="#000" stroke-width="2.5" />
<line x1="1015.10" y1="1365.40" x2="1015.10" y2="1348.40" stroke="#000" stroke-width="2.5" />
<line x1="1015.10" y1="1036.60" x2="1015.10" y2="1053.60" stroke="#000" stroke-width="2.5" />
<line x1="1191.04" y1="1365.40" x2="1191.04" y2="1348.40" stroke="#000" stroke-width="2.5" />
<line x1="1191.04" y1="1036.60" x2="1191.04" y2="1053.60" stroke="#000" stroke-width="2.5" />
<line x1="1366.98" y1="1365.40" x2="1366.98" y2="1348.40" stroke="#000" stroke-width="2.5" />
<line x1="1366.98" y1="1036.60" x2="1366.98" y2="1053.60" stroke="#000" stroke-width="2.5" />
<line x1="1542.92" y1="1365.40" x2="1542.92" y2="1348.40" stroke="#000" stroke-width="2.5" />
<line x1="1542.92" y1="1036.60" x2="1542.92" y2="1053.60" stroke="#000" stroke-width="2.5" />
<line x1="137.80" y1="1148.30" x2="154.80" y2="1148.30" stroke="#000" stroke-width="2.5" />
<line x1="1719.20" y1="1148.30" x2="1702.20" y2="1148.30" stroke="#000" stroke-width="2.5" />
<line x1="137.80" y1="1257.00" x2="154.80" y2="1257.00" stroke="#000" stroke-width="2.5" />
<line x1="1719.20" y1="1257.00" x2="1702.20" y2="1257.00" stroke="#000" stroke-width="2.5" />
<line x1="137.80" y1="1038.20" x2="154.80" y2="1038.20" stroke="#000" stroke-width="3.4" />
<line x1="1719.20" y1="1038.20" x2="1702.20" y2="1038.20" stroke="#000" stroke-width="3.4" />
<text x="123.00" y="1049.40" font-size="36" font-family="Liberation Sans, sans-serif" text-anchor="end" >1.6</text>
<text x="123.00" y="1158.80" font-size="36" font-family="Liberation Sans, sans-serif" text-anchor="end" >1.4</text>
<text x="123.00" y="1267.50" font-size="36" font-family="Liberation Sans, sans-serif" text-anchor="end" >1.2</text>
<text x="124.50" y="1374.80" font-size="36" font-family="Liberation Sans, sans-serif" text-anchor="end" >1</text>
<text x="138.00" y="1405.30" font-size="36" font-family="Liberation Sans, sans-serif" text-anchor="middle" >0</text>
<text x="310.14" y="1405.30" font-size="36" font-family="Liberation Sans, sans-serif" text-anchor="middle" >20</text>
<text x="486.08" y="1405.30" font-size="36" font-family="Liberation Sans, sans-serif" text-anchor="middle" >40</text>
<text x="662.02" y="1405.30" font-size="36" font-family="Liberation Sans, sans-serif" text-anchor="middle" >60</text>
<text x="837.96" y="1405.30" font-size="36" font-family="Liberation Sans, sans-serif" text-anchor="middle" >80</text>
<text x="1013.90" y="1405.30" font-size="36" font-family="Liberation Sans, sans-serif" text-anchor="middle" >100</text>
<text x="1189.84" y="1405.30" font-size="36" font-family="Liberation Sans, sans-serif" text-anchor="middle" >120</text>
<text x="1365.78" y="1405.30" font-size="36" font-family="Liberation Sans, sans-serif" text-anchor="middle" >140</text>
<text x="1541.72" y="1405.30" font-size="36" font-family="Liberation Sans, sans-serif" text-anchor="middle" >160</text>
<text x="1720.00" y="1405.30" font-size="36" font-family="Liberation Sans, sans-serif" text-anchor="middle" >180</text>
<text transform="translate(50.40,1357.30) rotate(-90)" font-size="40.2" font-family="Liberation Serif, serif" text-anchor="start" >Overall Cost ($)x10<tspan font-size="27.5" dy="-14" dx="-1.5">7</tspan></text>
<text x="914.70" y="1449.50" font-size="40" font-family="Liberation Serif, serif" text-anchor="middle" >Iteration</text>
<text x="3.50" y="1453.40" font-size="44.5" font-family="Liberation Serif, serif" text-anchor="start" >(e)</text>
<rect x="1396.7" y="1059.5" width="305.1" height="158.2" fill="#fff" stroke="#000" stroke-width="2.7"/>
<rect x="1418.8" y="1088.2" width="2.8" height="2.8" fill="#fe0000"/>
<rect x="1433.8" y="1088.2" width="2.8" height="2.8" fill="#fe0000"/>
<rect x="1448.9" y="1088.2" width="2.8" height="2.8" fill="#fe0000"/>
<rect x="1463.9" y="1088.2" width="2.8" height="2.8" fill="#fe0000"/>
<rect x="1479.0" y="1088.2" width="2.8" height="2.8" fill="#fe0000"/>
<rect x="1494.0" y="1088.2" width="2.8" height="2.8" fill="#fe0000"/>
<rect x="1509.1" y="1088.2" width="2.8" height="2.8" fill="#fe0000"/>
<rect x="1524.1" y="1088.2" width="2.8" height="2.8" fill="#fe0000"/>
<rect x="1539.2" y="1088.2" width="2.8" height="2.8" fill="#fe0000"/>
<line x1="1419.30" y1="1137.10" x2="1541.80" y2="1137.10" stroke="#0000fe" stroke-width="2.5" />
<line x1="1430.60" y1="1184.50" x2="1460.40" y2="1184.50" stroke="#000" stroke-width="2.5" />
<line x1="1472.80" y1="1184.50" x2="1502.20" y2="1184.50" stroke="#000" stroke-width="2.5" />
<line x1="1514.60" y1="1184.50" x2="1541.80" y2="1184.50" stroke="#000" stroke-width="2.5" />
<text x="1553.5" y="1101.8" font-size="35" font-family="Liberation Sans, sans-serif" textLength="97" lengthAdjust="spacingAndGlyphs">Worst</text>
<text x="1553.5" y="1152.2" font-size="35" font-family="Liberation Sans, sans-serif" textLength="75" lengthAdjust="spacingAndGlyphs">Best</text>
<text x="1553.5" y="1201.0" font-size="35" font-family="Liberation Sans, sans-serif" textLength="130" lengthAdjust="spacingAndGlyphs">Average</text>
</svg></body></html>
